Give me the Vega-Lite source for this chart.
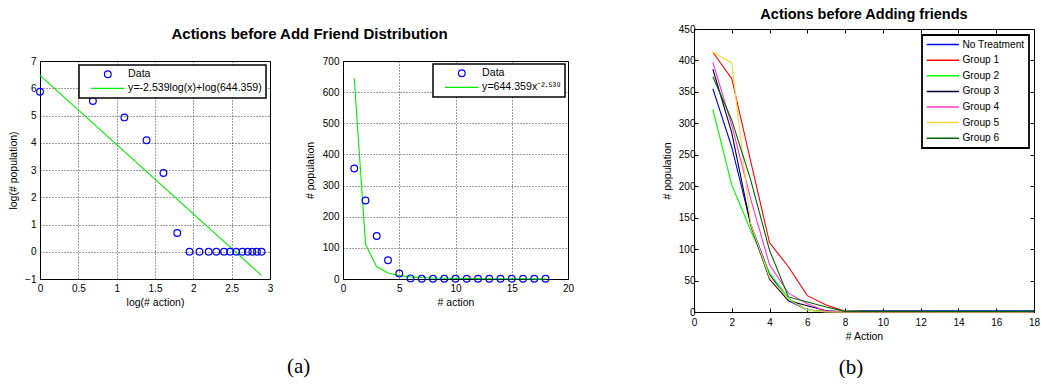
{
  "$schema": "https://vega.github.io/schema/vega-lite/v6.json",
  "background": "white",
  "padding": {"left": 8, "top": 6, "right": 0, "bottom": 0},
  "config": {
    "font": "Liberation Sans",
    "view": {"stroke": "#000", "strokeWidth": 1},
    "axis": {
      "labelFont": "Liberation Sans", "labelFontSize": 10, "labelColor": "#000",
      "titleFont": "Liberation Sans", "titleFontSize": 10.5, "titleFontWeight": "normal", "titleColor": "#000",
      "domainColor": "#000", "tickColor": "#000", "ticks": false, "labelPadding": 4, "labelFlush": false, "labelOverlap": false,
      "gridColor": "#000", "gridDash": [1, 2], "gridOpacity": 0.75, "gridWidth": 1
    },
    "legend": {"labelFont": "Liberation Sans", "labelColor": "#000", "strokeColor": "#000", "fillColor": "#fff"},
    "title": {"font": "Liberation Sans", "color": "#000"}
  },
  "datasets": {
    "p1pts": [
      {"x": 0, "y": 5.87, "s": "Data"}, {"x": 0.69, "y": 5.53, "s": "Data"}, {"x": 1.1, "y": 4.93, "s": "Data"},
      {"x": 1.39, "y": 4.09, "s": "Data"}, {"x": 1.61, "y": 2.89, "s": "Data"}, {"x": 1.79, "y": 0.69, "s": "Data"},
      {"x": 1.95, "y": 0, "s": "Data"}, {"x": 2.08, "y": 0, "s": "Data"}, {"x": 2.2, "y": 0, "s": "Data"},
      {"x": 2.3, "y": 0, "s": "Data"}, {"x": 2.4, "y": 0, "s": "Data"}, {"x": 2.48, "y": 0, "s": "Data"},
      {"x": 2.56, "y": 0, "s": "Data"}, {"x": 2.64, "y": 0, "s": "Data"}, {"x": 2.71, "y": 0, "s": "Data"},
      {"x": 2.77, "y": 0, "s": "Data"}, {"x": 2.83, "y": 0, "s": "Data"}, {"x": 2.89, "y": 0, "s": "Data"}
    ],
    "p1fit": [
      {"x": 0, "y": 6.47, "s": "y=-2.539log(x)+log(644.359)"},
      {"x": 2.89, "y": -0.87, "s": "y=-2.539log(x)+log(644.359)"}
    ],
    "p2pts": [
      {"x": 1, "y": 355, "s": "Data"}, {"x": 2, "y": 252, "s": "Data"}, {"x": 3, "y": 138, "s": "Data"},
      {"x": 4, "y": 60, "s": "Data"}, {"x": 5, "y": 18, "s": "Data"}, {"x": 6, "y": 2, "s": "Data"},
      {"x": 7, "y": 1, "s": "Data"}, {"x": 8, "y": 1, "s": "Data"}, {"x": 9, "y": 1, "s": "Data"},
      {"x": 10, "y": 1, "s": "Data"}, {"x": 11, "y": 1, "s": "Data"}, {"x": 12, "y": 1, "s": "Data"},
      {"x": 13, "y": 1, "s": "Data"}, {"x": 14, "y": 1, "s": "Data"}, {"x": 15, "y": 1, "s": "Data"},
      {"x": 16, "y": 1, "s": "Data"}, {"x": 17, "y": 1, "s": "Data"}, {"x": 18, "y": 1, "s": "Data"}
    ],
    "p2fit": [
      {"x": 1, "y": 644.4, "s": "y=644.359x⁻²·⁵³⁹"}, {"x": 2, "y": 111.2, "s": "y=644.359x⁻²·⁵³⁹"},
      {"x": 3, "y": 39.3, "s": "y=644.359x⁻²·⁵³⁹"}, {"x": 4, "y": 19.2, "s": "y=644.359x⁻²·⁵³⁹"},
      {"x": 5, "y": 10.9, "s": "y=644.359x⁻²·⁵³⁹"}, {"x": 6, "y": 6.8, "s": "y=644.359x⁻²·⁵³⁹"},
      {"x": 7, "y": 4.6, "s": "y=644.359x⁻²·⁵³⁹"}, {"x": 8, "y": 3.3, "s": "y=644.359x⁻²·⁵³⁹"},
      {"x": 9, "y": 2.4, "s": "y=644.359x⁻²·⁵³⁹"}, {"x": 10, "y": 1.9, "s": "y=644.359x⁻²·⁵³⁹"},
      {"x": 11, "y": 1.4, "s": "y=644.359x⁻²·⁵³⁹"}, {"x": 12, "y": 1.2, "s": "y=644.359x⁻²·⁵³⁹"},
      {"x": 13, "y": 0.96, "s": "y=644.359x⁻²·⁵³⁹"}, {"x": 14, "y": 0.8, "s": "y=644.359x⁻²·⁵³⁹"},
      {"x": 15, "y": 0.67, "s": "y=644.359x⁻²·⁵³⁹"}, {"x": 16, "y": 0.57, "s": "y=644.359x⁻²·⁵³⁹"},
      {"x": 17, "y": 0.49, "s": "y=644.359x⁻²·⁵³⁹"}, {"x": 18, "y": 0.42, "s": "y=644.359x⁻²·⁵³⁹"}
    ],
    "groups": [
      {"a": 1, "g": "No Treatment", "p": 355}, {"a": 2, "g": "No Treatment", "p": 262}, {"a": 3, "g": "No Treatment", "p": 140},
      {"a": 4, "g": "No Treatment", "p": 60}, {"a": 5, "g": "No Treatment", "p": 18}, {"a": 6, "g": "No Treatment", "p": 3},
      {"a": 7, "g": "No Treatment", "p": 1}, {"a": 8, "g": "No Treatment", "p": 1}, {"a": 9, "g": "No Treatment", "p": 2},
      {"a": 10, "g": "No Treatment", "p": 2}, {"a": 11, "g": "No Treatment", "p": 2}, {"a": 12, "g": "No Treatment", "p": 2},
      {"a": 13, "g": "No Treatment", "p": 2}, {"a": 14, "g": "No Treatment", "p": 2}, {"a": 15, "g": "No Treatment", "p": 2},
      {"a": 16, "g": "No Treatment", "p": 2}, {"a": 17, "g": "No Treatment", "p": 2}, {"a": 18, "g": "No Treatment", "p": 2},
      {"a": 1, "g": "Group 1", "p": 413}, {"a": 2, "g": "Group 1", "p": 371}, {"a": 3, "g": "Group 1", "p": 240},
      {"a": 4, "g": "Group 1", "p": 110}, {"a": 5, "g": "Group 1", "p": 72}, {"a": 6, "g": "Group 1", "p": 26},
      {"a": 7, "g": "Group 1", "p": 11}, {"a": 8, "g": "Group 1", "p": 1}, {"a": 9, "g": "Group 1", "p": 1},
      {"a": 10, "g": "Group 1", "p": 1}, {"a": 11, "g": "Group 1", "p": 1}, {"a": 12, "g": "Group 1", "p": 1},
      {"a": 13, "g": "Group 1", "p": 0}, {"a": 14, "g": "Group 1", "p": 0}, {"a": 15, "g": "Group 1", "p": 0},
      {"a": 16, "g": "Group 1", "p": 0}, {"a": 17, "g": "Group 1", "p": 0}, {"a": 18, "g": "Group 1", "p": 0},
      {"a": 1, "g": "Group 2", "p": 322}, {"a": 2, "g": "Group 2", "p": 202}, {"a": 3, "g": "Group 2", "p": 130},
      {"a": 4, "g": "Group 2", "p": 62}, {"a": 5, "g": "Group 2", "p": 22}, {"a": 6, "g": "Group 2", "p": 3},
      {"a": 7, "g": "Group 2", "p": 1}, {"a": 8, "g": "Group 2", "p": 0}, {"a": 9, "g": "Group 2", "p": 0},
      {"a": 10, "g": "Group 2", "p": 0}, {"a": 11, "g": "Group 2", "p": 0}, {"a": 12, "g": "Group 2", "p": 0},
      {"a": 13, "g": "Group 2", "p": 0}, {"a": 14, "g": "Group 2", "p": 0}, {"a": 15, "g": "Group 2", "p": 0},
      {"a": 16, "g": "Group 2", "p": 0}, {"a": 17, "g": "Group 2", "p": 0}, {"a": 18, "g": "Group 2", "p": 0},
      {"a": 1, "g": "Group 3", "p": 386}, {"a": 2, "g": "Group 3", "p": 285}, {"a": 3, "g": "Group 3", "p": 138},
      {"a": 4, "g": "Group 3", "p": 52}, {"a": 5, "g": "Group 3", "p": 18}, {"a": 6, "g": "Group 3", "p": 10},
      {"a": 7, "g": "Group 3", "p": 2}, {"a": 8, "g": "Group 3", "p": 0}, {"a": 9, "g": "Group 3", "p": 0},
      {"a": 10, "g": "Group 3", "p": 0}, {"a": 11, "g": "Group 3", "p": 0}, {"a": 12, "g": "Group 3", "p": 0},
      {"a": 13, "g": "Group 3", "p": 0}, {"a": 14, "g": "Group 3", "p": 0}, {"a": 15, "g": "Group 3", "p": 0},
      {"a": 16, "g": "Group 3", "p": 0}, {"a": 17, "g": "Group 3", "p": 0}, {"a": 18, "g": "Group 3", "p": 0},
      {"a": 1, "g": "Group 4", "p": 397}, {"a": 2, "g": "Group 4", "p": 297}, {"a": 3, "g": "Group 4", "p": 180},
      {"a": 4, "g": "Group 4", "p": 75}, {"a": 5, "g": "Group 4", "p": 30}, {"a": 6, "g": "Group 4", "p": 13},
      {"a": 7, "g": "Group 4", "p": 1}, {"a": 8, "g": "Group 4", "p": 0}, {"a": 9, "g": "Group 4", "p": 0},
      {"a": 10, "g": "Group 4", "p": 0}, {"a": 11, "g": "Group 4", "p": 0}, {"a": 12, "g": "Group 4", "p": 0},
      {"a": 13, "g": "Group 4", "p": 0}, {"a": 14, "g": "Group 4", "p": 0}, {"a": 15, "g": "Group 4", "p": 0},
      {"a": 16, "g": "Group 4", "p": 0}, {"a": 17, "g": "Group 4", "p": 0}, {"a": 18, "g": "Group 4", "p": 0},
      {"a": 1, "g": "Group 5", "p": 413}, {"a": 2, "g": "Group 5", "p": 396}, {"a": 3, "g": "Group 5", "p": 140},
      {"a": 4, "g": "Group 5", "p": 55}, {"a": 5, "g": "Group 5", "p": 20}, {"a": 6, "g": "Group 5", "p": 3},
      {"a": 7, "g": "Group 5", "p": 0}, {"a": 8, "g": "Group 5", "p": 0}, {"a": 9, "g": "Group 5", "p": 0},
      {"a": 10, "g": "Group 5", "p": 0}, {"a": 11, "g": "Group 5", "p": 0}, {"a": 12, "g": "Group 5", "p": 0},
      {"a": 13, "g": "Group 5", "p": 0}, {"a": 14, "g": "Group 5", "p": 0}, {"a": 15, "g": "Group 5", "p": 0},
      {"a": 16, "g": "Group 5", "p": 0}, {"a": 17, "g": "Group 5", "p": 0}, {"a": 18, "g": "Group 5", "p": 0},
      {"a": 1, "g": "Group 6", "p": 374}, {"a": 2, "g": "Group 6", "p": 305}, {"a": 3, "g": "Group 6", "p": 210},
      {"a": 4, "g": "Group 6", "p": 98}, {"a": 5, "g": "Group 6", "p": 24}, {"a": 6, "g": "Group 6", "p": 16},
      {"a": 7, "g": "Group 6", "p": 8}, {"a": 8, "g": "Group 6", "p": 1}, {"a": 9, "g": "Group 6", "p": 1},
      {"a": 10, "g": "Group 6", "p": 1}, {"a": 11, "g": "Group 6", "p": 1}, {"a": 12, "g": "Group 6", "p": 1},
      {"a": 13, "g": "Group 6", "p": 1}, {"a": 14, "g": "Group 6", "p": 1}, {"a": 15, "g": "Group 6", "p": 1},
      {"a": 16, "g": "Group 6", "p": 1}, {"a": 17, "g": "Group 6", "p": 1}, {"a": 18, "g": "Group 6", "p": 1}
    ]
  },
  "resolve": {"scale": {"color": "independent"}, "legend": {"color": "independent"}},
  "spacing": 82,
  "hconcat": [
    {
      "title": {"text": "(a)", "orient": "bottom", "anchor": "middle", "frame": "bounds", "dx": 5, "font": "Liberation Serif", "fontSize": 21, "fontWeight": "normal", "offset": 48},
      "resolve": {"scale": {"color": "independent"}, "legend": {"color": "independent"}},
      "spacing": 13,
      "vconcat": [
        {
          "width": 539, "height": 1,
          "view": {"stroke": null},
          "title": {"text": "Actions before Add Friend Distribution", "orient": "bottom", "frame": "group", "anchor": "middle", "fontSize": 15, "fontWeight": "bold", "offset": -3},
          "data": {"values": []},
          "mark": "point"
        },
        {
          "spacing": 30,
          "resolve": {"scale": {"color": "independent"}, "legend": {"color": "independent"}},
          "hconcat": [
            {
              "width": 230, "height": 218,
              "layer": [
                {
                  "data": {"name": "p1fit"},
                  "mark": {"type": "line", "strokeWidth": 1.1},
                  "encoding": {
                    "x": {"field": "x", "type": "quantitative", "scale": {"domain": [0, 3], "nice": false},
                      "axis": {"values": [0, 0.5, 1, 1.5, 2, 2.5, 3], "format": "~g", "title": "log(# action)", "grid": true, "titlePadding": 4}},
                    "y": {"field": "y", "type": "quantitative", "scale": {"domain": [-1, 7], "nice": false},
                      "axis": {"values": [-1, 0, 1, 2, 3, 4, 5, 6, 7], "format": "~g", "title": "log(# population)", "grid": true, "labelPadding": 4, "titlePadding": 6}},
                    "color": {"field": "s", "type": "nominal",
                      "scale": {"domain": ["Data", "y=-2.539log(x)+log(644.359)"], "range": ["#0000ff", "#00ee00"]},
                      "legend": {"title": null, "orient": "top-right", "offset": 4, "padding": 4, "labelFontSize": 10.6,
                        "rowPadding": 2, "symbolSize": 45, "symbolOffset": 19.5, "labelOffset": 15, "symbolStrokeWidth": 1.2,
                        "encode": {
                          "legend": {"update": {"strokeWidth": {"value": 1.5}}},
                          "symbols": {"update": {
                            "shape": {"signal": "datum.value === 'Data' ? 'circle' : 'M-5,0H5'"},
                            "fill": {"value": "transparent"}
                          }}}}
                    }
                  }
                },
                {
                  "data": {"name": "p1pts"},
                  "mark": {"type": "point", "filled": false, "size": 45, "strokeWidth": 1.2, "opacity": 1},
                  "encoding": {
                    "x": {"field": "x", "type": "quantitative", "scale": {"domain": [0, 3], "nice": false},
                      "axis": {"values": [0, 0.5, 1, 1.5, 2, 2.5, 3], "format": "~g", "title": "log(# action)", "grid": true, "titlePadding": 4}},
                    "y": {"field": "y", "type": "quantitative", "scale": {"domain": [-1, 7], "nice": false},
                      "axis": {"values": [-1, 0, 1, 2, 3, 4, 5, 6, 7], "format": "~g", "title": "log(# population)", "grid": true, "labelPadding": 4, "titlePadding": 6}},
                    "color": {"field": "s", "type": "nominal",
                      "scale": {"domain": ["Data", "y=-2.539log(x)+log(644.359)"], "range": ["#0000ff", "#00ee00"]},
                      "legend": {"title": null, "orient": "top-right", "offset": 4, "padding": 4, "labelFontSize": 10.6,
                        "rowPadding": 2, "symbolSize": 45, "symbolOffset": 19.5, "labelOffset": 15, "symbolStrokeWidth": 1.2,
                        "encode": {
                          "legend": {"update": {"strokeWidth": {"value": 1.5}}},
                          "symbols": {"update": {
                            "shape": {"signal": "datum.value === 'Data' ? 'circle' : 'M-5,0H5'"},
                            "fill": {"value": "transparent"}
                          }}}}
                    }
                  }
                }
              ]
            },
            {
              "width": 225, "height": 218,
              "layer": [
                {
                  "data": {"name": "p2fit"},
                  "mark": {"type": "line", "strokeWidth": 1.1},
                  "encoding": {
                    "x": {"field": "x", "type": "quantitative", "scale": {"domain": [0, 20], "nice": false},
                      "axis": {"values": [0, 5, 10, 15, 20], "title": "# action", "grid": true, "titlePadding": 4}},
                    "y": {"field": "y", "type": "quantitative", "scale": {"domain": [0, 700], "nice": false},
                      "axis": {"values": [0, 100, 200, 300, 400, 500, 600, 700], "title": "# population", "grid": true, "labelPadding": 4, "titlePadding": 7}},
                    "color": {"field": "s", "type": "nominal",
                      "scale": {"domain": ["Data", "y=644.359x⁻²·⁵³⁹"], "range": ["#0000ff", "#00ee00"]},
                      "legend": {"title": null, "orient": "top-right", "offset": 3, "padding": 4, "labelFontSize": 10.6,
                        "rowPadding": 2, "symbolSize": 45, "symbolOffset": 19.5, "labelOffset": 15, "symbolStrokeWidth": 1.2,
                        "encode": {
                          "legend": {"update": {"strokeWidth": {"value": 1.5}}},
                          "symbols": {"update": {
                            "shape": {"signal": "datum.value === 'Data' ? 'circle' : 'M-5,0H5'"},
                            "fill": {"value": "transparent"}
                          }}}}
                    }
                  }
                },
                {
                  "data": {"name": "p2pts"},
                  "mark": {"type": "point", "filled": false, "size": 45, "strokeWidth": 1.2, "opacity": 1},
                  "encoding": {
                    "x": {"field": "x", "type": "quantitative", "scale": {"domain": [0, 20], "nice": false},
                      "axis": {"values": [0, 5, 10, 15, 20], "title": "# action", "grid": true, "titlePadding": 4}},
                    "y": {"field": "y", "type": "quantitative", "scale": {"domain": [0, 700], "nice": false},
                      "axis": {"values": [0, 100, 200, 300, 400, 500, 600, 700], "title": "# population", "grid": true, "labelPadding": 4, "titlePadding": 7}},
                    "color": {"field": "s", "type": "nominal",
                      "scale": {"domain": ["Data", "y=644.359x⁻²·⁵³⁹"], "range": ["#0000ff", "#00ee00"]},
                      "legend": {"title": null, "orient": "top-right", "offset": 3, "padding": 4, "labelFontSize": 10.6,
                        "rowPadding": 2, "symbolSize": 45, "symbolOffset": 19.5, "labelOffset": 15, "symbolStrokeWidth": 1.2,
                        "encode": {
                          "legend": {"update": {"strokeWidth": {"value": 1.5}}},
                          "symbols": {"update": {
                            "shape": {"signal": "datum.value === 'Data' ? 'circle' : 'M-5,0H5'"},
                            "fill": {"value": "transparent"}
                          }}}}
                    }
                  }
                }
              ]
            }
          ]
        }
      ]
    },
    {
      "title": {"text": "(b)", "orient": "bottom", "anchor": "middle", "frame": "bounds", "font": "Liberation Serif", "fontSize": 21, "fontWeight": "normal", "offset": 15},
      "resolve": {"scale": {"color": "independent"}, "legend": {"color": "independent"}},
      "vconcat": [
        {
          "width": 340, "height": 283,
          "title": {"text": "Actions before Adding friends", "fontSize": 14.5, "fontWeight": "bold", "frame": "group", "offset": 2},
          "data": {"name": "groups"},
          "layer": [
            {
              "mark": {"type": "line", "strokeWidth": 1.1},
              "encoding": {
                "x": {"field": "a", "type": "quantitative", "scale": {"domain": [0, 18], "nice": false},
                  "axis": {"values": [0, 2, 4, 6, 8, 10, 12, 14, 16, 18], "title": "# Action", "grid": false, "ticks": true, "tickSize": -4, "labelPadding": 9, "titlePadding": 4}},
                "y": {"field": "p", "type": "quantitative", "scale": {"domain": [0, 450], "nice": false},
                  "axis": {"values": [0, 50, 100, 150, 200, 250, 300, 350, 400, 450], "title": "# population", "grid": false, "ticks": true, "tickSize": -4, "labelPadding": 3, "titlePadding": 6}},
                "color": {"field": "g", "type": "nominal",
                  "scale": {"domain": ["No Treatment", "Group 1", "Group 2", "Group 3", "Group 4", "Group 5", "Group 6"],
                    "range": ["#0000ff", "#ff0000", "#00ff00", "#000033", "#ff33cc", "#ffd43b", "#006600"]},
                  "legend": {"title": null, "orient": "top-right", "offset": 5.5, "padding": 4.5, "labelFontSize": 10.2,
                    "rowPadding": 4.6, "symbolType": "M-4.8,0H4.8", "symbolSize": 45, "symbolOffset": 11.25, "labelOffset": 14.5,
                    "symbolStrokeWidth": 1.5,
                    "encode": {"legend": {"update": {"strokeWidth": {"value": 1.8}}}}}
                }
              }
            },
            {
              "mark": {"type": "line", "opacity": 0},
              "encoding": {
                "x": {"field": "a", "type": "quantitative", "axis": {"orient": "top", "labels": false, "title": null, "grid": false, "ticks": true, "tickSize": -4, "values": [0, 2, 4, 6, 8, 10, 12, 14, 16, 18]}},
                "y": {"field": "p", "type": "quantitative", "axis": {"orient": "right", "labels": false, "title": null, "grid": false, "ticks": true, "tickSize": -4, "values": [0, 50, 100, 150, 200, 250, 300, 350, 400, 450]}},
                "detail": {"field": "g", "type": "nominal"}
              }
            }
          ],
          "resolve": {"axis": {"x": "independent", "y": "independent"}}
        }
      ]
    }
  ]
}
